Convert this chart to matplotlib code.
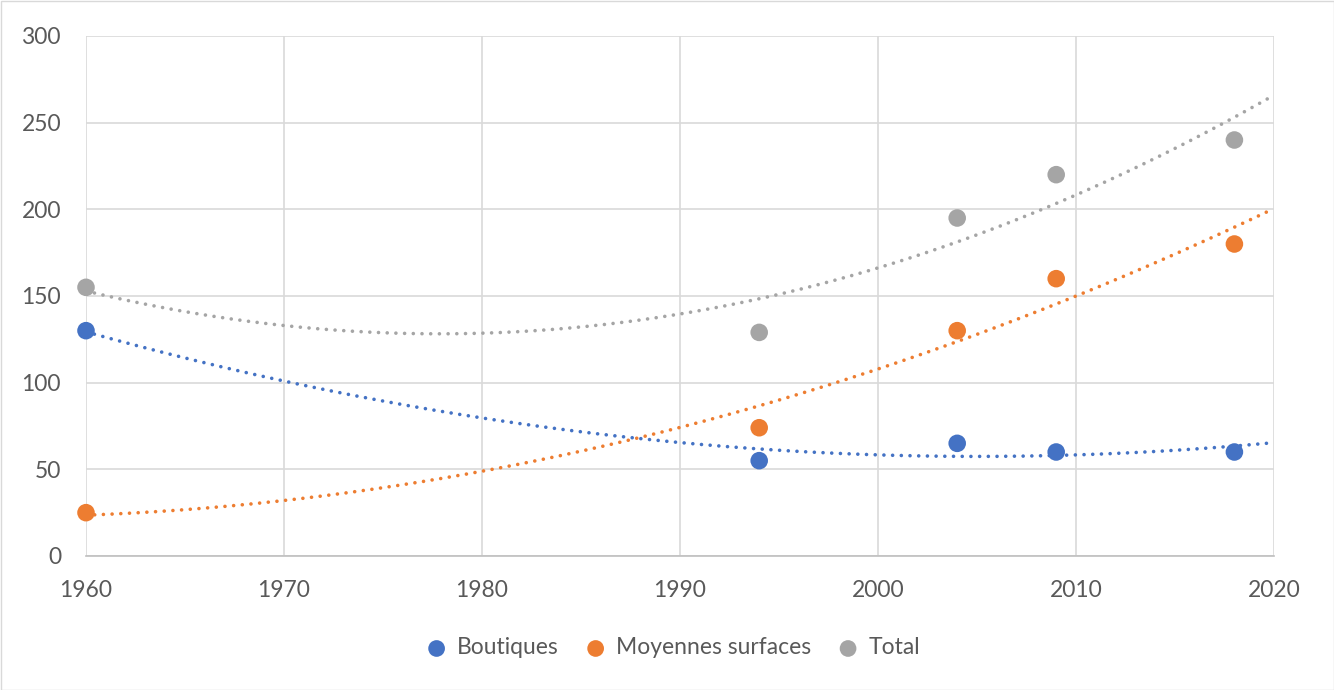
import matplotlib
matplotlib.use('Agg')
import matplotlib.pyplot as plt
import numpy as np

plt.rcParams['font.family'] = ['Lato', 'DejaVu Sans']

years = [1960, 1994, 2004, 2009, 2018]
boutiques = [130, 55, 65, 60, 60]
moyennes = [25, 74, 130, 160, 180]
total = [155, 129, 195, 220, 240]

series = [
    ('Boutiques', boutiques, '#4472C4'),
    ('Moyennes surfaces', moyennes, '#ED7D31'),
    ('Total', total, '#A5A5A5'),
]

fig = plt.figure(figsize=(13.34, 6.9), dpi=100)
ax = fig.add_axes([86 / 1334, 1 - 556 / 690, (1274 - 86) / 1334, (556 - 36) / 690])

# courbes de tendance polynomiales (ordre 2)
xs = np.linspace(1960, 2020, 400)
for name, vals, col in series:
    coef = np.polyfit(years, vals, 2)
    ax.plot(xs, np.polyval(coef, xs), color=col, lw=2.6, linestyle=(0, (0.01, 2.4)),
            dash_capstyle='round', zorder=2, clip_on=False)
for name, vals, col in series:
    ax.scatter(years, vals, s=160, color=col, zorder=3, label=name, edgecolors='none',
               clip_on=False)

ax.set_xlim(1960, 2020)
ax.set_ylim(0, 300)
ax.set_xticks(range(1960, 2021, 10))
ax.set_yticks(range(0, 301, 50))
ax.grid(True, color='#D9D9D9', lw=1.2)
ax.set_axisbelow(True)
for s in ['top', 'right', 'left']:
    ax.spines[s].set_visible(False)
ax.spines['bottom'].set_color('#BFBFBF')
ax.spines['bottom'].set_linewidth(1.2)
ax.tick_params(length=0, labelsize=16.5, labelcolor='#595959')
ax.tick_params(axis='y', pad=18)
ax.tick_params(axis='x', pad=17)

fig.legend(loc='center', bbox_to_anchor=(0.5, 1 - 648 / 690), ncol=3, frameon=False,
           fontsize=16.5, labelcolor='#595959', handletextpad=-0.1, columnspacing=0.6,
           markerscale=0.95)

fig.patches.append(plt.Rectangle((0.5 / 1334, 0.5 / 690), 1 - 1 / 1334, 1 - 1 / 690,
                                 transform=fig.transFigure, fill=False,
                                 edgecolor='#D9D9D9', lw=1))

fig.savefig('out.png', dpi=100)
